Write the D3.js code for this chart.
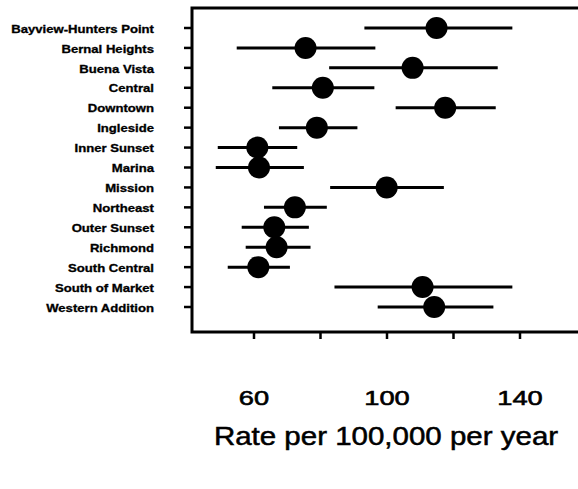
<!DOCTYPE html>
<html>
<head>
<meta charset="utf-8">
<script src="https://cdn.jsdelivr.net/npm/d3@7"></script>
<style>
  body { margin: 0; background: #fff; }
  svg { display: block; }
</style>
</head>
<body>
<div id="area1"></div>
<script>
const w1 = 578;
const h1 = 489;

// Neighbourhoods, top to bottom
const districts = ["Bayview-Hunters Point", "Bernal Heights", "Buena Vista", "Central",
  "Downtown", "Ingleside", "Inner Sunset", "Marina", "Mission", "Northeast",
  "Outer Sunset", "Richmond", "South Central", "South of Market", "Western Addition"];
// Point estimates and interval ends (rate per 100,000 per year)
const rates = [114.9, 75.5, 107.7, 80.7, 117.5, 78.9, 61, 61.5, 99.9, 72.3, 66.1, 66.8, 61.3, 110.7, 114.2];
const lower = [93.2, 54.8, 82.6, 65.5, 102.6, 67.5, 49.1, 48.5, 82.9, 63, 56.3, 57.5, 52.1, 84.2, 97.2];
const upper = [137.7, 96.5, 133.3, 96.2, 132.7, 91.1, 73, 75, 117.1, 81.9, 76.5, 77, 70.8, 137.7, 132];
const xTicks = [60, 80, 100, 120, 140];
const xLabels = [60, 100, 140];

let dataset1 = districts.map((d, i) => ({ name: d, rate: rates[i], lo: lower[i], hi: upper[i] }));

let svg1 = d3.select("#area1")
            .append("svg")
            .attr("width", w1)
            .attr("height", h1);

// frame edges
const frameL = 192, frameT = 8, frameB = 332;

// Data scales
let x = d3.scaleLinear()
    .domain([60, 140])
    .range([254, 520]);

let y = d3.scalePoint()
    .domain(districts)
    .range([28, 307]);

// Frame (right side runs off the picture)
svg1.append("path")
    .attr("d", "M" + (w1 + 5) + "," + frameT + "H" + frameL + "V" + frameB + "H" + (w1 + 5))
    .attr("fill", "none")
    .attr("stroke", "#000")
    .attr("stroke-width", 3);

// y ticks + labels
svg1.append("g")
    .selectAll("line")
    .data(districts)
    .enter()
    .append("line")
    .attr("x1", frameL - 8)
    .attr("x2", frameL)
    .attr("y1", d => y(d))
    .attr("y2", d => y(d))
    .attr("stroke", "#000")
    .attr("stroke-width", 2.5);

// printed type is wider than Arial, so stretch it a bit
svg1.append("g")
    .selectAll("text")
    .data(districts)
    .enter()
    .append("text")
    .attr("transform", d => "translate(154," + (y(d) + 1) + ") scale(1.25,1)")
    .attr("dy", "0.35em")
    .attr("text-anchor", "end")
    .attr("font-family", "Liberation Sans, Arial, sans-serif")
    .attr("font-weight", "bold")
    .attr("font-size", "10.5px")
    .attr("stroke", "#000")
    .attr("stroke-width", 0.3)
    .text(d => d);

// x ticks
svg1.append("g")
    .selectAll("line")
    .data(xTicks)
    .enter()
    .append("line")
    .attr("x1", d => x(d))
    .attr("x2", d => x(d))
    .attr("y1", frameB)
    .attr("y2", frameB + 7)
    .attr("stroke", "#000")
    .attr("stroke-width", 2.5);

svg1.append("g")
    .selectAll("text")
    .data(xLabels)
    .enter()
    .append("text")
    .attr("transform", d => "translate(" + x(d) + ",405) scale(1.3,1)")
    .attr("text-anchor", "middle")
    .attr("font-family", "Liberation Sans, Arial, sans-serif")
    .attr("font-size", "21px")
    .attr("stroke", "#000")
    .attr("stroke-width", 0.6)
    .text(d => d);

svg1.append("text")
    .attr("transform", "translate(386,445) scale(1.18,1)")
    .attr("text-anchor", "middle")
    .attr("font-family", "Liberation Sans, Arial, sans-serif")
    .attr("font-size", "25px")
    .attr("stroke", "#000")
    .attr("stroke-width", 0.5)
    .text("Rate per 100,000 per year");

// intervals
svg1.selectAll("line.ci")
    .data(dataset1)
    .enter()
    .append("line")
    .attr("class", "ci")
    .attr("x1", d => x(d.lo))
    .attr("x2", d => x(d.hi))
    .attr("y1", d => y(d.name))
    .attr("y2", d => y(d.name))
    .attr("stroke", "#000")
    .attr("stroke-width", 3);

// point estimates
svg1.selectAll("circle")
    .data(dataset1)
    .enter()
    .append("circle")
    .attr("cx", d => x(d.rate))
    .attr("cy", d => y(d.name))
    .attr("r", 11)
    .attr("fill", "#000");
</script>
</body>
</html>
